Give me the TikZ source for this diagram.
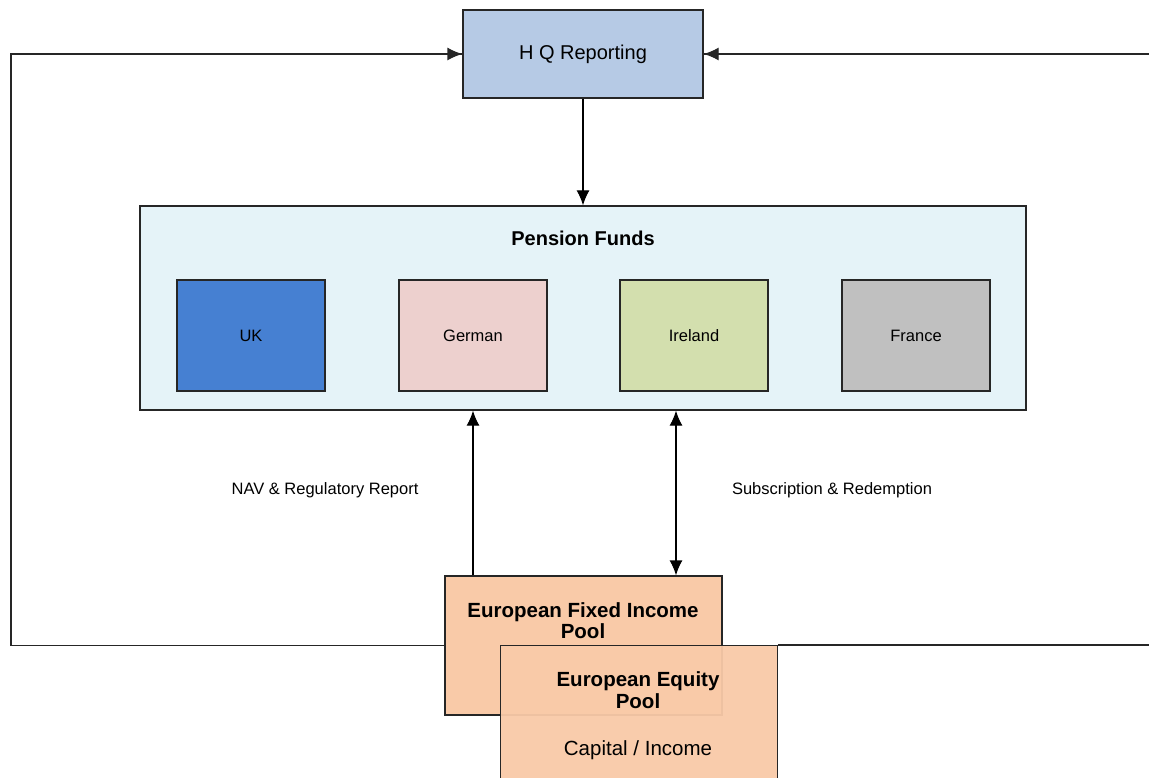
\documentclass[tikz,border=0pt]{standalone}
\usepackage{fontspec}
\setmainfont{Liberation Sans}
\usetikzlibrary{arrows.meta,calc}
\definecolor{hqc}{HTML}{B6CAE5}
\definecolor{pfc}{HTML}{E5F3F8}
\definecolor{ukc}{HTML}{4680D2}
\definecolor{dec}{HTML}{EDD0CE}
\definecolor{iec}{HTML}{D3DFAE}
\definecolor{frc}{HTML}{C0C0C0}
\definecolor{poolc}{HTML}{F9CAA8}
\tikzset{
  box/.style={draw=black!85, line width=1.3pt, inner sep=0pt},
  arr/.style={line width=1.3pt, -{Latex[length=15pt,width=13pt]}},
  darr/.style={line width=1.3pt, {Latex[length=15pt,width=13pt]}-{Latex[length=15pt,width=13pt]}},
  loopline/.style={line width=1.3pt, draw=black!85},
  small/.style={font=\fontsize{16.5}{19}\selectfont},
  big/.style={font=\fontsize{20}{24}\selectfont},
  bigb/.style={font=\fontsize{20.5}{24.5}\selectfont\bfseries, align=center},
}
\begin{document}
\begin{tikzpicture}[x=1pt,y=-1pt]
\clip (0,0) rectangle (1149,778);
\fill[white] (0,0) rectangle (1149,778);
% HQ
\node[box, fill=hqc, minimum width=240pt, minimum height=88pt, big] (hq) at (583,54) {H Q Reporting};
% Pension funds
\node[box, fill=pfc, minimum width=886pt, minimum height=204pt] (pf) at (583,308) {};
\node[font=\fontsize{20}{24}\selectfont\bfseries] (pft) at (583,238) {Pension Funds};
\node[box, fill=ukc, minimum width=148pt, minimum height=111pt, small] (uk) at (251,335.5) {UK};
\node[box, fill=dec, minimum width=148pt, minimum height=111pt, small] (de) at (473,335.5) {German};
\node[box, fill=iec, minimum width=148pt, minimum height=111pt, small] (ie) at (694,335.5) {Ireland};
\node[box, fill=frc, minimum width=148pt, minimum height=111pt, small] (fr) at (916,335.5) {France};
% Pools
\node[box, fill=poolc, minimum width=277pt, minimum height=139pt] (fi) at (583.5,645.5) {};
\node[bigb] (fit) at (583,620.5) {European Fixed Income\\[-3pt]Pool};
\node[box, fill=poolc, fill opacity=0.95, minimum width=277pt, minimum height=170pt, anchor=north west] (eq) at (500,645) {};
\node[bigb] (eqt) at (638,690) {European Equity\\[-3pt]Pool};
\node[font=\fontsize{20.5}{24}\selectfont] (cap) at (638,750) {Capital / Income};
% connectors
\coordinate (xa) at (473,0);
\coordinate (xb) at (676,0);
\draw[arr] (hq.south) -- (pf.north);
\draw[arr] (fi.north -| xa) -- (pf.south -| xa);
\draw[darr] (fi.north -| xb) -- (pf.south -| xb);
\coordinate (lft) at (11,645);
\coordinate (rgt) at (1156,645);
\draw[loopline] (fi.west) -- (fi.west -| lft) |- (hq.west);
\draw[arr, draw=black!85] (lft |- hq.west) -- (hq.west);
\draw[loopline] (eq.north east) -- (rgt) |- (hq.east);
\draw[arr, draw=black!85] (rgt |- hq.east) -- (hq.east);
% labels
\node[small] (nav) at (325,490) {NAV \& Regulatory Report};
\node[small] (sub) at (832,490) {Subscription \& Redemption};
\end{tikzpicture}
\end{document}
